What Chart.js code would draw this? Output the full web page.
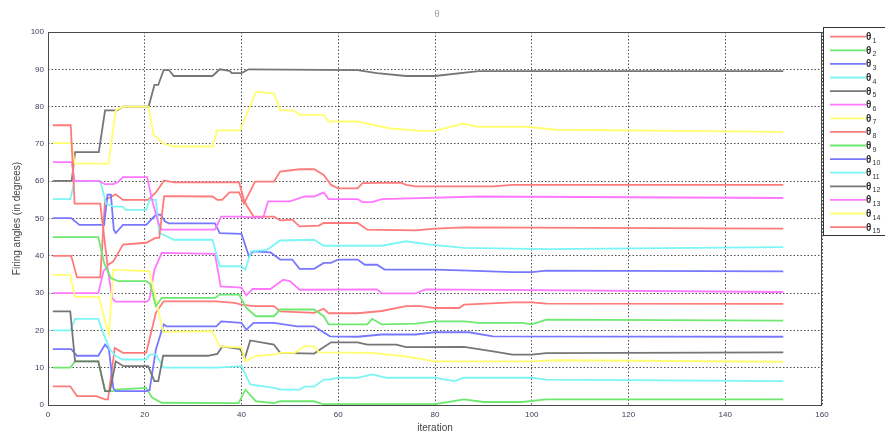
<!DOCTYPE html>
<html>
<head>
<meta charset="utf-8">
<script src="https://cdn.jsdelivr.net/npm/chart.js@4.4.1/dist/chart.umd.min.js"></script>
<style>
  html, body { margin: 0; padding: 0; background: #fff; }
  #wrap { width: 885px; height: 437px; position: relative; }
</style>
</head>
<body>
<div id="wrap"><canvas id="chart" width="885" height="437"></canvas></div>
<script>
// --- Datos: ángulos de disparo por iteración [iteración, grados] ---
const xTicks = [0, 20, 40, 60, 80, 100, 120, 140, 160];
const yTicks = [0, 10, 20, 30, 40, 50, 60, 70, 80, 90, 100];
const seriesNames = ['θ1', 'θ2', 'θ3', 'θ4', 'θ5', 'θ6', 'θ7', 'θ8', 'θ9', 'θ10', 'θ11', 'θ12', 'θ13', 'θ14', 'θ15'];

const theta1 = [[1,5],[4.6,5],[6,2.4],[10,2.4],[11.8,1.5],[12.4,1.5],[13.8,15.3],[15.5,14],[20.3,14],[22.3,24.7],[23.9,27.8],[34.8,27.8],[38.5,27.4],[40,26.9],[42.5,26.5],[46.7,26.5],[48,25.1],[55,24.7],[57,25.8],[58,24.6],[64,24.6],[69,25.2],[74,26.5],[77,26.5],[80,26],[85,26],[86,26.9],[96,27.5],[100,27.5],[103,27.2],[152,27.1]];
const theta2 = [[1,10],[4.6,10],[5.6,11.7],[10.4,11.7],[11.8,3.7],[13.5,3.7],[14,4.1],[20.3,4.6],[21.5,2],[23.5,0.6],[39.4,0.5],[40.8,4.1],[43,1],[46.7,0.5],[48,1],[55,1],[57,0.2],[80,0.2],[86,1.5],[90,0.8],[98,0.8],[103,1.5],[152,1.5]];
const theta3 = [[1,15],[4.8,15],[6,13.2],[10.4,13.2],[11.8,16.2],[12.6,15],[13.5,4.5],[14,3.7],[20.3,3.7],[21,4],[22.3,14.9],[23.9,21.6],[24.5,21.1],[34.8,21.1],[35.8,22.4],[40,22],[41,20.2],[42.5,22],[46.7,22],[51.5,21.1],[55,21.1],[58.3,18.4],[64,18.3],[69,18.9],[76,18.9],[80,19.5],[87,19.5],[92,18.4],[152,18.3]];
const theta4 = [[1,20],[4.6,20],[5.6,23.1],[10.4,23.1],[11.5,19],[12.8,14.9],[14,13.1],[15.5,12.2],[20.3,12.2],[21,13.5],[22.3,13.5],[23.9,10],[34.8,10],[40,10.4],[41.8,5.5],[46.7,4.6],[48,4.1],[52,4.1],[53,4.9],[55,4.9],[57,6.8],[58,6.8],[60,7.3],[64,7.3],[67,8.2],[70,7.3],[80,7.3],[84,6.4],[86,7.3],[100,7.3],[103,6.8],[152,6.4]];
const theta5 = [[1,25.1],[4.6,25.1],[5.6,11.7],[10.4,11.7],[11.8,3.7],[12.8,3.7],[14,11.7],[15.6,10.4],[20.7,10.4],[22,6.4],[22.8,6.4],[23.8,13.2],[33,13.2],[35,13.7],[36,15.7],[39.7,15],[40.7,12.6],[41.8,17.3],[46.7,16.2],[48,14],[55,13.8],[58.5,16.8],[64,16.8],[66,16.2],[72,16.2],[74,15.5],[86,15.6],[92,14.4],[96,13.5],[100,13.5],[103,13.9],[152,14.1]];
const theta6 = [[1,30],[10.4,30],[11.5,36],[12.3,37],[13.3,28.5],[14,27.7],[20.5,27.7],[21,28.5],[22,36.3],[23.5,40.8],[34.5,40.5],[35.7,31.8],[40,31.5],[41,29.4],[42.3,31.1],[46,31.1],[48.6,33.6],[50,33.2],[52,30.9],[68,31],[69,29.9],[76,29.9],[78,31],[100,30.8],[152,30.3]];
const theta7 = [[1,34.9],[4.6,34.9],[5.6,29],[10.5,29],[11.9,22],[12.6,19],[13.5,36.3],[21,35.8],[21.8,31],[23.8,19.6],[34,19.8],[35.5,15.7],[40,15.4],[40.8,11.7],[43,13.2],[46.7,13.5],[48,14],[51,14],[53,15.7],[55,15.7],[56,14.1],[67,14],[74,13],[80,11.7],[100,11.7],[105,12],[152,11.6]];
const theta8 = [[1,40],[4.8,40],[6,34.2],[10.8,34.2],[11.8,55],[14,56.5],[15.5,55],[20.7,55],[22.3,57],[24,60.2],[26,59.7],[39.5,59.7],[40.5,55],[41.2,53.2],[42.5,50.5],[46.7,50.5],[48,49.5],[50.5,49.7],[52,47.9],[56,48.1],[57,48.8],[64,48.8],[66,47],[76,46.8],[80,47.3],[86,47.6],[152,47.3]];
const theta9 = [[1,45],[10.4,45],[11.6,38.1],[13,34],[14.5,33.2],[20.3,33.2],[21.1,32.5],[22.3,26.5],[23.5,28.7],[34.5,28.7],[35.5,29.6],[39.5,29.6],[41,26],[43,23.8],[46.7,23.8],[48,25.6],[55,25.6],[57,23.8],[58,21.6],[66,21.6],[67,23.1],[69,21.6],[76,21.8],[80,22.4],[86,22.4],[89,22],[98,22],[100,21.6],[103,22.9],[152,22.6]];
const theta10 = [[1,50.1],[4.8,50.1],[6.5,48.3],[11.6,48.3],[12.3,56.4],[13,56.4],[13.6,47],[14,46.1],[15.5,48.3],[20.3,48.3],[22.3,51],[23.3,51],[24.2,49.2],[25,48.7],[34.5,48.7],[35.5,46.1],[40,45.9],[41.5,40],[42.5,41.2],[46,40.9],[48,39],[50.5,39],[52,36.5],[55,36.5],[57,38.1],[58.5,38.1],[60,39],[64,39],[65.5,37.6],[68,37.6],[69.6,36.3],[80,36.3],[87,36],[96,35.6],[100,35.6],[103,36],[152,35.8]];
const theta11 = [[1,55.2],[4.6,55.2],[5.5,60.1],[10.8,60.1],[12,54],[13.5,53.2],[15.5,53.2],[16,52.3],[20.3,52.3],[21,55],[22.3,55],[23,46],[24,45.6],[26,44.3],[34,44.3],[35.5,37.2],[40,37.2],[40.8,36.3],[42,41.2],[45.3,41.6],[48,44.1],[55,44.3],[57,42.7],[69,42.7],[74,43.9],[79,43],[86,42.1],[103,41.8],[152,42.3]];
const theta12 = [[1,60.1],[4.9,60.1],[5.6,67.8],[10.5,67.8],[11.8,79],[14.3,79],[15.6,80],[20.8,80],[22,85.8],[22.8,85.8],[23.9,89.8],[25,89.8],[26,88.2],[34,88.2],[35.5,90],[37.5,89.6],[38,89],[40,89],[41.5,90],[64,89.8],[68,89],[74,88.2],[80,88.2],[89,89.5],[152,89.5]];
const theta13 = [[1,65.1],[4.9,65.1],[5.5,60.1],[10.4,60.1],[11.8,59.2],[13.5,59.2],[14.5,59.8],[15.5,61.1],[20.5,61.1],[21.5,55],[22.8,48.8],[23.5,47],[34.5,47],[35.8,50.5],[40,50.5],[42,50.3],[44.5,50.3],[45.5,54.6],[50,54.6],[53,55.9],[55,55.9],[57,57],[58,55.2],[64,55.2],[65,54.4],[67,54.4],[69,55.2],[89,55.9],[152,55.5]];
const theta14 = [[1,70.2],[4.9,70.2],[5.5,64.7],[12.5,64.7],[14,79],[15.5,80],[20.8,80],[21.8,72.5],[24,70],[26,69.3],[34,69.3],[35,73.6],[39.7,73.6],[43,84],[46.7,83.5],[48,79],[50.7,79],[52,77.8],[57,77.8],[58,76],[64,76],[70.5,74.2],[77,73.5],[80,73.5],[85.7,75.4],[89,74.6],[99,74.6],[105,73.8],[152,73.2]];
const theta15 = [[1,75],[4.7,75],[5.5,54],[10.8,54],[12.3,37.5],[13.5,38.5],[15.5,43],[20.3,43.5],[22.2,44.8],[23,44.8],[24,56],[34,55.9],[35,55],[36,55],[37.5,57],[39.5,57],[40.5,54],[42.8,59.9],[46.7,59.9],[48,62.6],[52,63.2],[55,63.2],[57,61.7],[58.5,59],[60,58.1],[64,58.1],[65,59.5],[73,59.6],[74,59],[76,58.6],[92,58.6],[96,59],[105,59],[152,59]];

const allSeries = [theta1, theta2, theta3, theta4, theta5, theta6, theta7, theta8,
                   theta9, theta10, theta11, theta12, theta13, theta14, theta15];

// Colores estilo MATLAB (se repiten cada 7 series)
const palette = ['#ff7b7b', '#6fe86f', '#7878ff', '#7cf5f5', '#767676', '#ff78ff', '#ffff70'];

const PLOT = { left: 48, top: 32, right: 822, bottom: 405 };
const TEXT_COLOR = '#3c3c5c';
const FONT = '"Liberation Sans", Arial, sans-serif';

/**
 * Dibuja el marco del gráfico, los títulos de ejes y la leyenda.
 */
const matlabDecor = {
  id: 'matlabDecor',
  afterDraw(chart) {
    const ctx = chart.ctx;
    const a = chart.chartArea;
    ctx.save();

    // marco del área de trazado
    ctx.strokeStyle = '#4a4a4a';
    ctx.lineWidth = 1;
    ctx.setLineDash([]);
    ctx.strokeRect(a.left + 0.5, a.top + 0.5, a.right - a.left - 1, a.bottom - a.top);

    // títulos
    ctx.fillStyle = '#444';
    ctx.textAlign = 'center';
    ctx.textBaseline = 'middle';
    ctx.font = '10px ' + FONT;
    ctx.fillText('iteration', (a.left + a.right) / 2, 428);
    ctx.fillStyle = '#999';
    ctx.font = '9px ' + FONT;
    ctx.fillText('θ', 437, 15);

    ctx.save();
    ctx.translate(17, (a.top + a.bottom) / 2);
    ctx.rotate(-Math.PI / 2);
    ctx.fillStyle = '#444';
    ctx.font = '10px ' + FONT;
    ctx.fillText('Firing angles (in degrees)', 0, 0);
    ctx.restore();

    // leyenda
    const lx = 823, ly = 27, lh = 208;
    ctx.fillStyle = '#fff';
    ctx.fillRect(lx, ly, 885 - lx, lh);
    ctx.strokeStyle = '#333';
    ctx.strokeRect(lx + 0.5, ly + 0.5, 885 - lx + 5, lh);

    chart.data.datasets.forEach((ds, i) => {
      const y = 36.7 + i * 13.6;
      ctx.strokeStyle = ds.borderColor;
      ctx.lineWidth = 1.8;
      ctx.beginPath();
      ctx.moveTo(830, y);
      ctx.lineTo(866, y);
      ctx.stroke();

      const sub = ds.label.slice(1);
      ctx.fillStyle = '#333';
      ctx.textAlign = 'left';
      ctx.textBaseline = 'alphabetic';
      ctx.font = 'bold 10px ' + FONT;
      ctx.fillText('θ', 866, y + 3.5);
      ctx.font = '7px ' + FONT;
      ctx.fillText(sub, 872.5, y + 6);
    });

    ctx.restore();
  }
};

function buildDatasets() {
  return allSeries.map((points, i) => ({
    label: seriesNames[i],
    data: points.map(p => ({ x: p[0], y: p[1] })),
    borderColor: palette[i % palette.length],
    backgroundColor: palette[i % palette.length],
    borderWidth: 1.8,
    pointRadius: 0,
    tension: 0,
    fill: false,
    order: allSeries.length - i
  }));
}

const axisFont = { size: 8, family: FONT };

new Chart(document.getElementById('chart'), {
  type: 'line',
  data: { datasets: buildDatasets() },
  options: {
    responsive: false,
    animation: false,
    devicePixelRatio: 1,
    layout: { padding: { left: 0, top: PLOT.top, right: 885 - PLOT.right, bottom: 0 } },
    plugins: {
      legend: { display: false },
      title: { display: false },
      tooltip: { enabled: false }
    },
    scales: {
      x: {
        type: 'linear',
        min: xTicks[0],
        max: xTicks[xTicks.length - 1],
        afterFit: s => { s.height = 437 - PLOT.bottom; },
        afterBuildTicks: s => { s.ticks = xTicks.map(v => ({ value: v })); },
        ticks: { font: axisFont, color: TEXT_COLOR, padding: 5, maxRotation: 0, autoSkip: false },
        grid: { color: 'rgba(50,50,50,0.85)', lineWidth: 1, drawTicks: false },
        border: { display: false, dash: [1.5, 2] }
      },
      y: {
        type: 'linear',
        min: yTicks[0],
        max: yTicks[yTicks.length - 1],
        afterFit: s => { s.width = PLOT.left; },
        afterBuildTicks: s => { s.ticks = yTicks.map(v => ({ value: v })); },
        ticks: { font: axisFont, color: TEXT_COLOR, padding: 4, autoSkip: false },
        grid: { color: 'rgba(50,50,50,0.85)', lineWidth: 1, drawTicks: false },
        border: { display: false, dash: [1.5, 2] }
      }
    }
  },
  plugins: [matlabDecor]
});
</script>
</body>
</html>
